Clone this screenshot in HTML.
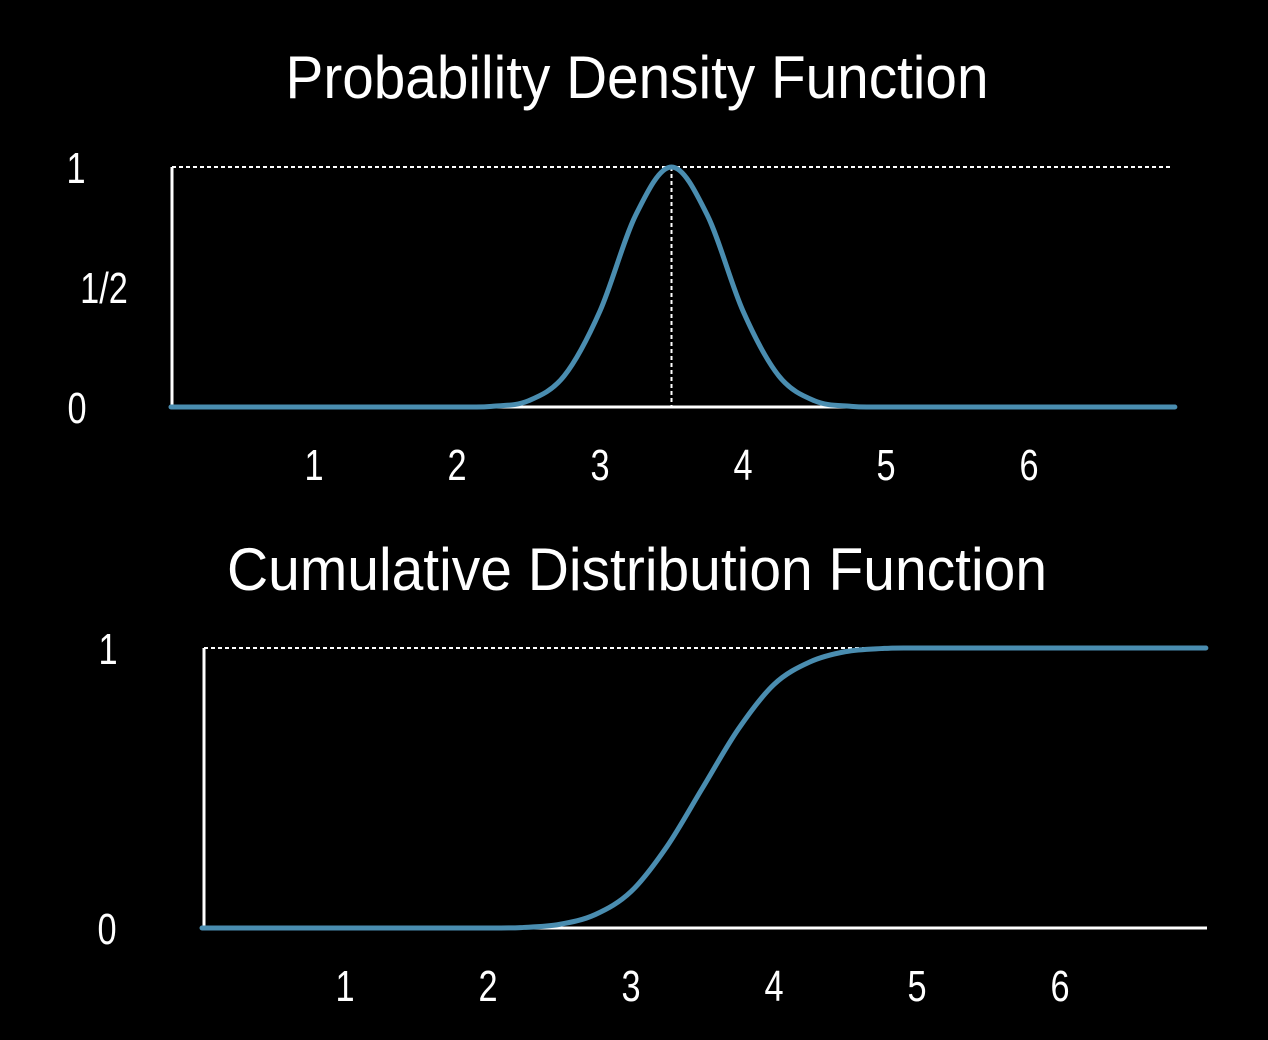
<!DOCTYPE html>
<html><head><meta charset="utf-8"><style>
html,body{margin:0;padding:0;background:#000;}
svg{display:block;}
text{font-family:"Liberation Sans Narrow","Liberation Sans",sans-serif;fill:#fff;}
</style></head><body>
<svg id="chart" width="1268" height="1040" viewBox="0 0 1268 1040">
<rect x="0" y="0" width="1268" height="1040" fill="#000"/>
<text x="637" y="98" font-size="60" text-anchor="middle" textLength="703" lengthAdjust="spacingAndGlyphs">Probability Density Function</text>
<text x="637" y="590" font-size="60" text-anchor="middle" textLength="820" lengthAdjust="spacingAndGlyphs">Cumulative Distribution Function</text>
<g id="pdf"></g>
<g id="cdf"></g>
</svg>
<script>
const xTicks = [1,2,3,4,5,6];
const pdfX = [0,1,2,2.25,2.5,2.75,3,3.25,3.5,3.75,4,4.25,4.5,4.75,5,6,7.02];
const pdfY = [0,0,0,0.003,0.026,0.13,0.40,0.80,1,0.80,0.40,0.13,0.026,0.003,0,0,0];
const cdfX = [0,1,2,2.25,2.5,2.75,3,3.25,3.5,3.75,4,4.25,4.5,4.75,5,6,7.02];
const cdfY = [0,0,0,0.002,0.013,0.048,0.13,0.29,0.5,0.71,0.87,0.95,0.987,0.998,1,1,1];
const pdfYTicks = [[0,"0"],[0.5,"1/2"],[1,"1"]];
const cdfYTicks = [[0,"0"],[1,"1"]];
const pdfYLabelX = [77,104,76];
const cdfYLabelX = [107,108];
const NS="http://www.w3.org/2000/svg";
function mk(tag,attrs,parent){const e=document.createElementNS(NS,tag);for(const k in attrs)e.setAttribute(k,attrs[k]);parent.appendChild(e);return e;}
function smooth(pts){let d="M"+pts[0][0]+","+pts[0][1];for(let i=0;i<pts.length-1;i++){const p0=pts[Math.max(0,i-1)],p1=pts[i],p2=pts[i+1],p3=pts[Math.min(pts.length-1,i+2)];const c1=[p1[0]+(p2[0]-p0[0])/6,p1[1]+(p2[1]-p0[1])/6],c2=[p2[0]-(p3[0]-p1[0])/6,p2[1]-(p3[1]-p1[1])/6];d+=" C"+c1[0]+","+c1[1]+" "+c2[0]+","+c2[1]+" "+p2[0]+","+p2[1];}return d;}
function label(g,x,y,txt){const e=mk("text",{transform:"translate("+x+","+y+") scale(0.78,1)","font-size":44,"text-anchor":"middle"},g);e.textContent=txt;return e;}
function draw(g,cfg,xs,ys,yt,ylx,peak){
  const sx=v=>cfg.x0+v*143, sy=v=>cfg.yb-v*(cfg.yb-cfg.yt);
  const top=mk("line",{x1:cfg.ax,y1:cfg.yt,x2:cfg.dashEnd,y2:cfg.yt,stroke:"#fff","stroke-width":2,"stroke-dasharray":"4,3"},g);
  
  
  const ya=mk("line",{x1:cfg.ax,y1:cfg.yt,x2:cfg.ax,y2:cfg.yb,stroke:"#fff","stroke-width":3},g);
  
  
  const xa=mk("line",{x1:cfg.ax,y1:cfg.yb,x2:cfg.xEnd,y2:cfg.yb,stroke:"#fff","stroke-width":3},g);
  
  
  if(peak!==undefined){
    const v=mk("line",{x1:sx(peak),y1:cfg.yt,x2:sx(peak),y2:cfg.yb,stroke:"#fff","stroke-width":2,"stroke-dasharray":"4,3"},g);
    
    
  }
  xTicks.forEach(t=>{const e=label(g,sx(t),cfg.yb+73,t);
    
    });
  yt.forEach(([v,l],i)=>{const e=label(g,ylx[i],sy(v)+16,l);
    
    });
  const pts=xs.map((x,i)=>[sx(x),sy(ys[i])]);
  const p=mk("path",{d:smooth(pts),fill:"none",stroke:"#4a8db0","stroke-width":5,"stroke-linecap":"round"},g);
  
  
}
draw(document.getElementById("pdf"),{x0:171,ax:172,yt:167,yb:407,dashEnd:1170,xEnd:1175},pdfX,pdfY,pdfYTicks,pdfYLabelX,3.5);
draw(document.getElementById("cdf"),{x0:202,ax:204,yt:648,yb:928,dashEnd:1207,xEnd:1207},cdfX,cdfY,cdfYTicks,cdfYLabelX);
</script>
</body></html>
